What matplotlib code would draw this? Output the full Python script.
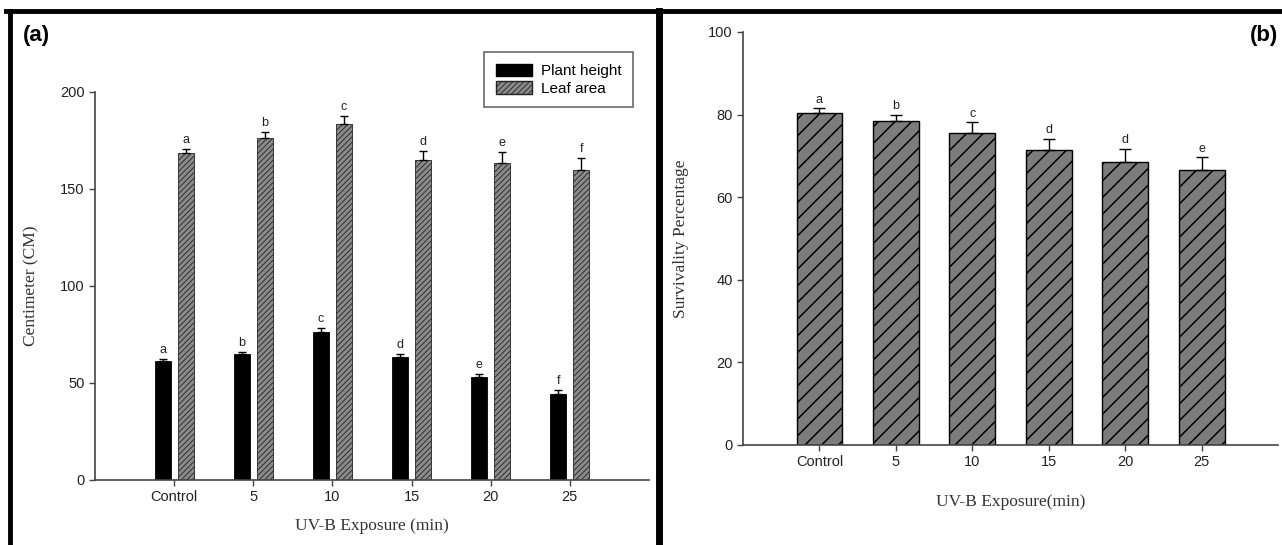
import matplotlib
matplotlib.use("Agg")
import matplotlib.pyplot as plt
import numpy as np
from matplotlib.lines import Line2D
from matplotlib.patches import Patch

categories = ["Control", "5", "10", "15", "20", "25"]

plant_height = [61.5, 65, 76.5, 63.5, 53, 44.5]
plant_height_err = [1.0, 0.8, 1.8, 1.5, 1.8, 1.8]
plant_height_letters = ["a", "b", "c", "d", "e", "f"]

leaf_area = [168.5, 176.5, 183.5, 165, 163.5, 160]
leaf_area_err = [2.2, 3.0, 4.0, 4.5, 5.5, 6.0]
leaf_area_letters = ["a", "b", "c", "d", "e", "f"]

survival = [80.4, 78.5, 75.6, 71.4, 68.5, 66.5]
survival_err = [1.1, 1.5, 2.5, 2.8, 3.2, 3.2]
survival_letters = ["a", "b", "c", "d", "d", "e"]

sans = ["Liberation Sans", "DejaVu Sans"]
serif = ["Liberation Serif", "DejaVu Serif"]
spine_c = "#444444"

fig = plt.figure(figsize=(12.82, 5.45), dpi=100)

def style_axes(ax, yticks):
    for s in ["top", "right"]:
        ax.spines[s].set_visible(False)
    for s in ["left", "bottom"]:
        ax.spines[s].set_color(spine_c)
        ax.spines[s].set_linewidth(1.2)
    ax.tick_params(axis="both", direction="out", length=4, width=1.0,
                   color=spine_c, labelsize=10.5, labelcolor="#222222")
    ax.set_yticks(yticks)
    for lab in ax.get_xticklabels() + ax.get_yticklabels():
        lab.set_family(sans)

x = np.arange(len(categories))

# ---- Panel (a)
ax1 = fig.add_axes([0.0741, 0.1193, 0.4321, 0.7119])
w = 0.2
off = 0.145
ax1.bar(x - off, plant_height, width=w, color="black", edgecolor="black",
        linewidth=0.6, zorder=2)
ax1.errorbar(x - off, plant_height, yerr=[np.zeros(len(x)), plant_height_err],
             fmt="none", ecolor="black", elinewidth=1.0, capsize=3, capthick=1.0, zorder=3)
plt.rcParams["hatch.linewidth"] = 0.6
ax1.bar(x + off, leaf_area, width=w, color="#8a8a8a", edgecolor="#222222",
        hatch="//////", linewidth=0.6, zorder=2)
ax1.errorbar(x + off, leaf_area, yerr=[np.zeros(len(x)), leaf_area_err],
             fmt="none", ecolor="black", elinewidth=1.0, capsize=3, capthick=1.0, zorder=3)
for i in range(len(x)):
    ax1.text(x[i] - off, plant_height[i] + plant_height_err[i] + 1.5, plant_height_letters[i],
             ha="center", va="bottom", fontsize=9, family=sans, color="#222222")
    ax1.text(x[i] + off, leaf_area[i] + leaf_area_err[i] + 1.5, leaf_area_letters[i],
             ha="center", va="bottom", fontsize=9, family=sans, color="#222222")
ax1.set_xlim(-1, 6)
ax1.set_ylim(0, 200)
ax1.set_xticks(x)
ax1.set_xticklabels(categories)
style_axes(ax1, [0, 50, 100, 150, 200])
ax1.set_ylabel("Centimeter (CM)", family=serif, fontsize=12.5, color="#333333", labelpad=15)
ax1.set_xlabel("UV-B Exposure (min)", family=serif, fontsize=12.5, color="#333333", labelpad=10)
leg_handles = [Patch(facecolor="black", edgecolor="black", label="Plant height"),
               Patch(facecolor="#8a8a8a", edgecolor="#222222", hatch="//////", label="Leaf area")]
leg = ax1.legend(handles=leg_handles, loc="upper right", bbox_to_anchor=(0.985, 1.122),
                 frameon=True, fancybox=False, edgecolor="#444444",
                 prop={"family": sans, "size": 11}, handlelength=2.35, handleheight=0.9,
                 borderpad=0.75, labelspacing=0.2, handletextpad=0.6)
leg.get_frame().set_linewidth(1.2)

# ---- Panel (b)
plt.rcParams["hatch.linewidth"] = 1.1
ax2 = fig.add_axes([0.5796, 0.1835, 0.4173, 0.7578])
ax2.bar(x, survival, width=0.6, color="#7c7c7c", edgecolor="black",
        hatch="//", linewidth=1.0, zorder=2)
ax2.errorbar(x, survival, yerr=[np.zeros(len(x)), survival_err],
             fmt="none", ecolor="black", elinewidth=1.0, capsize=4, capthick=1.0, zorder=3)
for i in range(len(x)):
    ax2.text(x[i], survival[i] + survival_err[i] + 0.6, survival_letters[i],
             ha="center", va="bottom", fontsize=9, family=sans, color="#222222")
ax2.set_xlim(-1, 6)
ax2.set_ylim(0, 100)
ax2.set_xticks(x)
ax2.set_xticklabels(categories)
style_axes(ax2, [0, 20, 40, 60, 80, 100])
ax2.set_ylabel("Survivality Percentage", family=serif, fontsize=12.5, color="#333333", labelpad=14)
ax2.set_xlabel("UV-B Exposure(min)", family=serif, fontsize=12.5, color="#333333", labelpad=18)

# ---- Panel labels
fig.text(0.018, 0.935, "(a)", family=sans, fontsize=16, fontweight="bold", va="center", ha="left")
fig.text(0.997, 0.935, "(b)", family=sans, fontsize=16, fontweight="bold", va="center", ha="right")

# ---- Frame lines
top_y = 1 - 11 / 545
fig.add_artist(Line2D([6 / 1282, 1.0], [top_y, top_y], color="black", linewidth=3.5,
                      transform=fig.transFigure))
fig.add_artist(Line2D([10 / 1282, 10 / 1282], [0, top_y], color="black", linewidth=3.5,
                      transform=fig.transFigure))
fig.add_artist(Line2D([659 / 1282, 659 / 1282], [0, top_y], color="black", linewidth=5,
                      transform=fig.transFigure))

fig.savefig("out.png", dpi=100)
